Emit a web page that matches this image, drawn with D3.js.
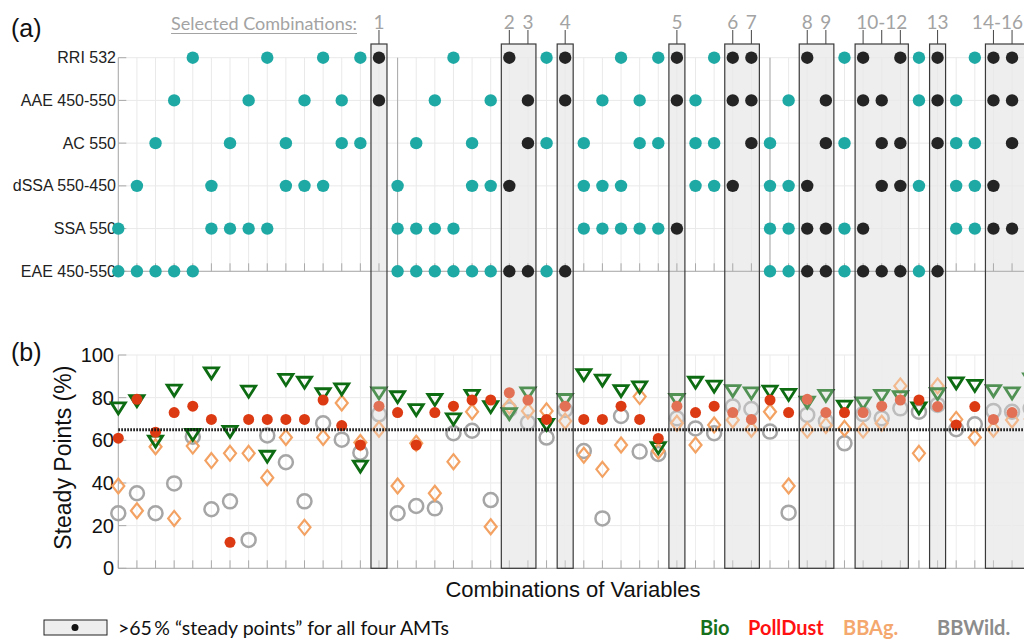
<!DOCTYPE html>
<html><head><meta charset="utf-8">
<script src="https://cdn.jsdelivr.net/npm/d3@7"></script>
<style>body{margin:0;background:#fff;} svg{display:block;}</style>
</head><body>
<svg id="c" width="1024" height="640"></svg>
<script>
// ---------- data ----------
const rowLabels = ["RRI 532","AAE 450-550","AC 550","dSSA 550-450","SSA 550","EAE 450-550"];
const rowKeys   = ["RRI","AAE","AC","dSSA","SSA","EAE"];
const combos = [
 "SSA,EAE","dSSA,EAE","AC,EAE","AAE,EAE","RRI,EAE","dSSA,SSA","AC,SSA","AAE,SSA","RRI,SSA",
 "AC,dSSA","AAE,dSSA","RRI,dSSA","AAE,AC","RRI,AC","RRI,AAE",
 "dSSA,SSA,EAE","AC,SSA,EAE","AAE,SSA,EAE","RRI,SSA,EAE","AC,dSSA,EAE","AAE,dSSA,EAE","RRI,dSSA,EAE",
 "AAE,AC,EAE","RRI,AC,EAE","RRI,AAE,EAE","AC,dSSA,SSA","AAE,dSSA,SSA","RRI,dSSA,SSA","AAE,AC,SSA",
 "RRI,AC,SSA","RRI,AAE,SSA","AAE,AC,dSSA","RRI,AC,dSSA","RRI,AAE,dSSA","RRI,AAE,AC",
 "AC,dSSA,SSA,EAE","AAE,dSSA,SSA,EAE","RRI,dSSA,SSA,EAE","AAE,AC,SSA,EAE","RRI,AC,SSA,EAE",
 "RRI,AAE,SSA,EAE","AAE,AC,dSSA,EAE","RRI,AC,dSSA,EAE","RRI,AAE,dSSA,EAE","RRI,AAE,AC,EAE",
 "AAE,AC,dSSA,SSA","RRI,AC,dSSA,SSA","RRI,AAE,dSSA,SSA","RRI,AAE,AC,SSA","RRI,AAE,AC,dSSA"
];
const groupStarts = [0, 15, 35];
const selectedGroups = [[14],[21,22],[24],[30],[33,34],[37,38],[40,41,42],[44],[47,48,49]];
const selectedLabels = [["1"],["2","3"],["4"],["5"],["6","7"],["8","9"],["10-12"],["13"],["14-16"]];

const bio = [75,78.4,59.4,83.3,62.5,91.4,64,82.8,52.3,88.3,87,81.6,83.9,47.7,82,
  80.2,74.2,78.9,69.8,80.8,75.5,72.3,82,67.2,78.9,90.6,88,83.1,84.8,56.3,78.9,87,85.2,83.1,82,
  82.8,81.3,77.7,80.8,75.8,77.3,80.8,80.2,75,81.6,86.7,85.5,83.1,82,88.6];
const pollDust = [61,79.2,63.8,73,76,69.8,12.2,69.8,69.8,69.8,69.8,78.9,66.9,57.8,76,
  73,57.8,73,76,78.9,78.9,82.3,78.9,69.8,76,69.8,69.8,76,69.8,60.9,76,73,76,73,69.8,
  78.9,73,79.2,73,73,73,76,78.9,78.9,75.8,67.2,75.8,69.8,73,76];
const bbAg = [38.6,27,57,23.4,57.3,50.5,53.9,53.9,42.5,61.3,19.2,61.3,77.5,59,65.2,
  38.6,58.6,35.2,50,73.4,19.5,76,73.8,73.8,69,53,46.4,57.8,80.5,55,68,57.8,67.2,69.5,65.2,
  73.4,38.6,64.8,67,65.6,64.8,68,85.5,53.9,85.5,69.8,61.3,65.2,69.5,70];
const bbWild = [25.8,35.2,25.8,39.8,61.7,27.7,31.4,13.3,62.3,49.7,31.4,68,60.3,54.2,72.2,
  25.8,29.2,28.1,63.3,64.5,32,74.5,68.3,61.3,74.2,55,23.4,71.4,54.7,53.6,70.3,65.6,63.3,75.8,74.7,
  64.1,26.1,71.9,69,58.6,72.3,70.3,75,73.4,76.6,65.2,67.5,73.8,73.4,75];
const yTicks = [0,20,40,60,80,100];
const threshold = 65;
const legendNames = ["Bio","PollDust","BBAg.","BBWild."];

// ---------- layout ----------
const svg = d3.select("#c");
const AX = "Liberation Sans, Arial, sans-serif";
const CAL = "Lato, 'Open Sans', sans-serif";
const selSet = new Set(selectedGroups.flat());
const idx = d3.range(combos.length);
const x = d3.scalePoint().domain(idx).range([118.3, 118.3 + 18.62*(combos.length-1)]);
const yRow = d3.scalePoint().domain(rowKeys).range([57.7, 271.3]);
const yB = d3.scaleLinear().domain([0,100]).range([568.3, 355]);
const xL = 118.3, xR = 1024;
const pad = 8;
const boxTop = 44, boxBot = yB(0);

// box backgrounds
const boxes = selectedGroups.map(g => ({x0: x(g[0]) - pad, x1: x(g[g.length-1]) + pad}));
svg.append("g").selectAll("rect").data(boxes).join("rect")
  .attr("x", d => d.x0).attr("y", boxTop).attr("width", d => d.x1 - d.x0).attr("height", boxBot - boxTop)
  .attr("fill", "#eeeeee");

// ---------- panel (a) ----------
const ga = svg.append("g");
ga.selectAll(".hg").data(rowKeys).join("line")
  .attr("x1", xL).attr("x2", xR).attr("y1", d => yRow(d)).attr("y2", d => yRow(d))
  .attr("stroke", "#e9e9e9");
ga.selectAll(".vg").data(idx).join("line")
  .attr("x1", d => x(d)).attr("x2", d => x(d)).attr("y1", yRow("RRI")).attr("y2", yRow("EAE"))
  .attr("stroke", "#e9e9e9");
ga.selectAll(".sep").data(groupStarts).join("line")
  .attr("x1", d => x(d)).attr("x2", d => x(d)).attr("y1", yRow("RRI")).attr("y2", yRow("EAE"))
  .attr("stroke", "#a9a9a9");
ga.append("line").attr("x1", xL).attr("x2", xR).attr("y1", yRow("EAE")).attr("y2", yRow("EAE")).attr("stroke", "#aaa");
ga.selectAll(".bt").data(idx).join("line")
  .attr("x1", d => x(d)).attr("x2", d => x(d)).attr("y1", yRow("EAE")).attr("y2", yRow("EAE") - 8)
  .attr("stroke", "#aaa");
ga.selectAll(".lt").data(rowKeys).join("line")
  .attr("x1", xL).attr("x2", xL + 8).attr("y1", d => yRow(d)).attr("y2", d => yRow(d)).attr("stroke", "#aaa");
ga.selectAll(".rl").data(rowKeys).join("text")
  .attr("x", 116).attr("y", d => yRow(d)).attr("dy", "0.35em").attr("text-anchor", "end")
  .attr("font-family", AX).attr("font-size", 16).attr("fill", "#222")
  .text((d,i) => rowLabels[i]);
const dots = [];
combos.forEach((c, i) => c.split(",").forEach(k => dots.push({i, k})));
ga.selectAll(".dot").data(dots).join("circle")
  .attr("cx", d => x(d.i)).attr("cy", d => yRow(d.k)).attr("r", 6.2)
  .attr("fill", d => selSet.has(d.i) ? "#242424" : "#1fa9a5");

// ---------- panel (b) ----------
const gb = svg.append("g");
gb.selectAll(".hg").data(yTicks).join("line")
  .attr("x1", xL).attr("x2", xR).attr("y1", d => yB(d)).attr("y2", d => yB(d)).attr("stroke", "#e9e9e9");
gb.selectAll(".vg").data(idx).join("line")
  .attr("x1", d => x(d)).attr("x2", d => x(d)).attr("y1", yB(100)).attr("y2", yB(0)).attr("stroke", "#ededed");
gb.append("line").attr("x1", xL).attr("x2", xL).attr("y1", yB(100)).attr("y2", yB(0)).attr("stroke", "#aaa");
gb.append("line").attr("x1", xL).attr("x2", xR).attr("y1", yB(0)).attr("y2", yB(0)).attr("stroke", "#aaa");
gb.selectAll(".bt").data(idx).join("line")
  .attr("x1", d => x(d)).attr("x2", d => x(d)).attr("y1", yB(0)).attr("y2", yB(0) - 8).attr("stroke", "#aaa");
gb.selectAll(".lt").data(yTicks).join("line")
  .attr("x1", xL).attr("x2", xL + 8).attr("y1", d => yB(d)).attr("y2", d => yB(d)).attr("stroke", "#aaa");
gb.selectAll(".tl").data(yTicks).join("text")
  .attr("x", 114).attr("y", d => yB(d)).attr("dy", "0.35em").attr("text-anchor", "end")
  .attr("font-family", AX).attr("font-size", 20).attr("fill", "#111").text(d => d);

// markers: BBWild, BBAg, Bio, PollDust
gb.selectAll(".bw").data(bbWild).join("circle")
  .attr("cx", (d,i) => x(i)).attr("cy", d => yB(d)).attr("r", 7)
  .attr("fill", "none").attr("stroke", "#a6a6a6").attr("stroke-width", 2.5);
gb.selectAll(".ba").data(bbAg).join("path")
  .attr("transform", (d,i) => `translate(${x(i)},${yB(d)})`)
  .attr("d", "M0,-7.5L6,0L0,7.5L-6,0Z")
  .attr("fill", "none").attr("stroke", "#f3a263").attr("stroke-width", 2.2);
gb.selectAll(".bi").data(bio).join("path")
  .attr("transform", (d,i) => `translate(${x(i)},${yB(d)})`)
  .attr("d", "M-7,-5.5L7,-5.5L0,5.5Z")
  .attr("fill", "none").attr("stroke", "#0d6b12").attr("stroke-width", 2.8).attr("stroke-linejoin", "miter");
gb.selectAll(".pd").data(pollDust).join("circle")
  .attr("cx", (d,i) => x(i)).attr("cy", d => yB(d)).attr("r", 5.5).attr("fill", "#dc3a12");

// overlay boxes over panel (b) markers
svg.append("g").selectAll("rect").data(boxes).join("rect")
  .attr("x", d => d.x0).attr("y", yB(100) - 10).attr("width", d => d.x1 - d.x0).attr("height", yB(0) - yB(100) + 10)
  .attr("fill", "#eeeeee").attr("fill-opacity", 0.3);

// threshold
svg.append("line").attr("x1", xL).attr("x2", xR).attr("y1", yB(threshold)).attr("y2", yB(threshold))
  .attr("stroke", "#111").attr("stroke-width", 3).attr("stroke-dasharray", "1.6,1.4");

// box outlines
svg.append("g").selectAll("rect").data(boxes).join("rect")
  .attr("x", d => d.x0).attr("y", boxTop).attr("width", d => d.x1 - d.x0).attr("height", boxBot - boxTop)
  .attr("fill", "none").attr("stroke", "#3a3a3a").attr("stroke-width", 1.2);

// selected labels
const gl = svg.append("g").attr("font-family", CAL).attr("font-size", 19).attr("fill", "#a3a3a3");
selectedGroups.forEach((g, gi) => {
  const labs = selectedLabels[gi];
  g.forEach(c => {
    gl.append("line").attr("x1", x(c)).attr("x2", x(c)).attr("y1", 30).attr("y2", boxTop)
      .attr("stroke", "#444").attr("stroke-width", 1);
  });
  if (labs.length === g.length) {
    labs.forEach((l, j) => gl.append("text").attr("x", x(g[j])).attr("y", 29).attr("text-anchor", "middle").text(l));
  } else {
    const mid = g[Math.floor(g.length/2)];
    const t = gl.append("text").attr("x", x(mid)).attr("y", 29).attr("text-anchor", "middle").text(labs[0]);
    const w = t.node().getComputedTextLength();
    if (x(mid) + w/2 > 1023) t.attr("x", 1023).attr("text-anchor", "end");
  }
});
const sc = gl.append("text").attr("x", 357).attr("y", 30).attr("text-anchor", "end").attr("font-size", 18)
  .text("Selected Combinations:");
const scw = sc.node().getComputedTextLength();
gl.append("line").attr("x1", 357 - scw).attr("x2", 357).attr("y1", 33.5).attr("y2", 33.5)
  .attr("stroke", "#a3a3a3").attr("stroke-width", 1.2);

// panel letters and titles
svg.append("text").attr("x", 11).attr("y", 37).attr("font-family", AX).attr("font-size", 25).attr("fill", "#111").text("(a)");
svg.append("text").attr("x", 11).attr("y", 361).attr("font-family", AX).attr("font-size", 25).attr("fill", "#111").text("(b)");
svg.append("text").attr("transform", `translate(63,${yB(50) - 4}) rotate(-90)`).attr("dy", "0.35em")
  .attr("text-anchor", "middle").attr("font-family", AX).attr("font-size", 23).attr("fill", "#111").text("Steady Points (%)");
svg.append("text").attr("x", 573).attr("y", 597).attr("text-anchor", "middle")
  .attr("font-family", AX).attr("font-size", 22).attr("fill", "#111").text("Combinations of Variables");

// bottom legend
svg.append("rect").attr("x", 44).attr("y", 620).attr("width", 63).attr("height", 15)
  .attr("fill", "#eeeeee").attr("stroke", "#222").attr("stroke-width", 1);
svg.append("circle").attr("cx", 75).attr("cy", 627.5).attr("r", 3.5).attr("fill", "#111");
svg.append("text").attr("x", 118).attr("y", 635).attr("font-family", CAL).attr("font-size", 19.5).attr("fill", "#111")
  .text(">65\u2009% \u201csteady points\u201d for all four AMTs");
const legColors = ["#17701a","#ff1111","#f4a86e","#8c8c8c"];
const legX = [700, 748, 843, 937];
svg.append("g").selectAll("text").data(legendNames).join("text")
  .attr("x", (d,i) => legX[i]).attr("y", 635).attr("font-family", CAL).attr("font-weight", "bold")
  .attr("font-size", 20).attr("fill", (d,i) => legColors[i]).text(d => d);
</script>
</body></html>
